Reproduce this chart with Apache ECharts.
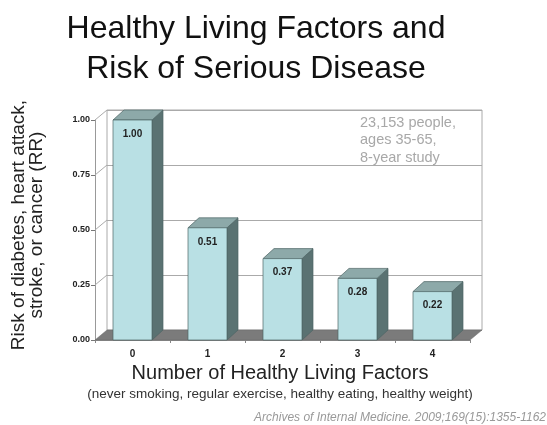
<!DOCTYPE html>
<html>
<head>
<meta charset="utf-8">
<script src="https://cdn.jsdelivr.net/npm/echarts@6/dist/echarts.min.js"></script>
<style>
  html, body { margin: 0; padding: 0; background: #fff; }
  #chart { width: 547px; height: 425px; }
</style>
</head>
<body>
<div id="chart"></div>
<script>
var categories = ['0', '1', '2', '3', '4'];
var riskValues = [1.00, 0.51, 0.37, 0.28, 0.22];
var yTicks = [0.25, 0.50, 0.75, 1.00];

var chart = echarts.init(document.getElementById('chart'));

// depth of the fake 3d look, pixels
var DX = 12, DY = -10;

function renderBar(params, api) {
	var top = api.coord([api.value(0), api.value(1)]);
	var base = api.coord([api.value(0), 0]);
	var w = api.size([1, 0])[0] * 0.52;
	var x = top[0] - w / 2;
	var edge = { stroke: '#4d6464', lineWidth: 0.7 };
	return {
		type: 'group',
		children: [
			{
				type: 'polygon',
				shape: { points: [[x + w, top[1]], [x + w + DX - 1, top[1] + DY], [x + w + DX - 1, base[1] + DY], [x + w, base[1]]] },
				style: Object.assign({ fill: '#5a7272' }, edge)
			},
			{
				type: 'polygon',
				shape: { points: [[x, top[1]], [x + DX - 1, top[1] + DY], [x + w + DX - 1, top[1] + DY], [x + w, top[1]]] },
				style: Object.assign({ fill: '#8da9a9' }, edge)
			},
			{
				type: 'rect',
				shape: { x: x, y: top[1], width: w, height: base[1] - top[1] },
				style: Object.assign({ fill: '#b9e0e4' }, edge)
			},
			{
				type: 'text',
				x: top[0],
				y: top[1] + 14,
				style: {
					text: api.value(1).toFixed(2),
					fill: '#222',
					font: 'bold 10px "Liberation Sans", Arial, sans-serif',
					align: 'center',
					verticalAlign: 'middle'
				}
			}
		]
	};
}

function renderFloor(params, api) {
	var cs = params.coordSys;
	var y0 = api.coord([0, 0])[1];
	return {
		type: 'polygon',
		shape: { points: [[cs.x, y0], [cs.x + cs.width, y0], [cs.x + cs.width + DX, y0 + DY], [cs.x + DX, y0 + DY]] },
		style: { fill: '#7b7b7b', stroke: '#6a6a6a', lineWidth: 0.5 }
	};
}

function renderSideLine(params, api) {
	var cs = params.coordSys;
	var y = api.coord([0, api.value(1)])[1];
	return {
		type: 'line',
		shape: { x1: cs.x, y1: y, x2: cs.x + DX, y2: y + DY },
		style: { stroke: '#aaa', lineWidth: 1 }
	};
}

var option = {
	animation: false,
	backgroundColor: '#fff',
	grid: [
		{ left: 95, right: 77, top: 120, bottom: 85 },
		{ left: 107, right: 65, top: 110, bottom: 95, show: true, borderColor: '#aaa', borderWidth: 1 }
	],
	xAxis: [
		{
			type: 'category',
			gridIndex: 0,
			data: categories,
			axisLine: { show: true, lineStyle: { color: '#888' } },
			axisTick: { show: true, length: 3, lineStyle: { color: '#888' } },
			axisLabel: {
				margin: 9,
				color: '#222',
				fontWeight: 'bold',
				fontSize: 10,
				fontFamily: '"Liberation Sans", Arial, sans-serif'
			}
		},
		{ type: 'category', gridIndex: 1, data: categories, show: false }
	],
	yAxis: [
		{
			type: 'value',
			gridIndex: 0,
			min: 0,
			max: 1,
			interval: 0.25,
			axisLine: { show: true, lineStyle: { color: '#999' } },
			axisTick: { show: true, length: 4, lineStyle: { color: '#777' } },
			splitLine: { show: false },
			axisLabel: {
				margin: 5,
				color: '#222',
				fontWeight: 'bold',
				fontSize: 9,
				fontFamily: '"Liberation Sans", Arial, sans-serif',
				formatter: function (v) { return v.toFixed(2); }
			}
		},
		{
			type: 'value',
			gridIndex: 1,
			min: 0,
			max: 1,
			interval: 0.25,
			axisLine: { show: false },
			axisTick: { show: false },
			axisLabel: { show: false },
			splitLine: { show: true, lineStyle: { color: '#aaa', width: 1 } }
		}
	],
	graphic: [
		{
			type: 'text',
			x: 256,
			y: 49,
			style: {
				text: 'Healthy Living Factors and\nRisk of Serious Disease',
				fill: '#111',
				font: '32px "Liberation Sans", Arial, sans-serif',
				lineHeight: 40,
				align: 'center',
				verticalAlign: 'middle'
			}
		},
		{
			type: 'text',
			left: 360,
			top: 114,
			style: {
				text: '23,153 people,\nages 35-65,\n8-year study',
				fill: '#a8a8a8',
				font: '14.5px "Liberation Sans", Arial, sans-serif',
				lineHeight: 17.5
			}
		},
		{
			type: 'text',
			x: 28,
			y: 225,
			rotation: Math.PI / 2,
			style: {
				text: 'Risk of diabetes, heart attack,\nstroke, or cancer (RR)',
				fill: '#222',
				font: '19px "Liberation Sans", Arial, sans-serif',
				lineHeight: 18,
				align: 'center',
				verticalAlign: 'middle'
			}
		},
		{
			type: 'text',
			x: 280,
			y: 373,
			style: {
				text: 'Number of Healthy Living Factors',
				fill: '#222',
				font: '20px "Liberation Sans", Arial, sans-serif',
				align: 'center',
				verticalAlign: 'middle'
			}
		},
		{
			type: 'text',
			x: 280,
			y: 394,
			style: {
				text: '(never smoking, regular exercise, healthy eating, healthy weight)',
				fill: '#333',
				font: '13.5px "Liberation Sans", Arial, sans-serif',
				align: 'center',
				verticalAlign: 'middle'
			}
		},
		{
			type: 'text',
			x: 546,
			y: 418,
			style: {
				text: 'Archives of Internal Medicine. 2009;169(15):1355-1162',
				fill: '#999',
				font: 'italic 12px "Liberation Sans", Arial, sans-serif',
				align: 'right',
				verticalAlign: 'middle'
			}
		}
	],
	series: [
		{
			type: 'custom',
			xAxisIndex: 0,
			yAxisIndex: 0,
			z: 1,
			renderItem: renderSideLine,
			data: yTicks.map(function (v) { return [0, v]; }),
			silent: true
		},
		{
			type: 'custom',
			xAxisIndex: 0,
			yAxisIndex: 0,
			z: 2,
			renderItem: renderFloor,
			data: [[0, 0]],
			silent: true
		},
		{
			type: 'custom',
			xAxisIndex: 0,
			yAxisIndex: 0,
			z: 3,
			renderItem: renderBar,
			data: riskValues.map(function (v, i) { return [i, v]; })
		}
	]
};

chart.setOption(option);
</script>
</body>
</html>
